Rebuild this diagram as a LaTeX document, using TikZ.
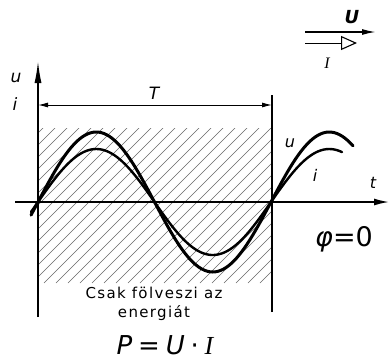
\documentclass[tikz,border=0pt]{standalone}
\usepackage{fontspec}
\setmainfont{DejaVu Sans}
\newfontfamily\serifit{Liberation Serif}
\newfontfamily\spaced[LetterSpace=9]{DejaVu Sans}
\usetikzlibrary{arrows.meta}
\begin{document}
\begin{tikzpicture}[x=1pt,y=-1pt,
  axisline/.style={line width=1.5pt},
  hatchline/.style={line width=0.5pt, black!60},
  ucurve/.style={line width=3pt, line cap=round},
  icurve/.style={line width=2.4pt, line cap=round},
  lbl/.style={inner sep=0pt, font=\fontsize{17}{20}\selectfont\itshape},
  smlbl/.style={inner sep=0pt, font=\fontsize{16}{19}\selectfont\itshape},
]
\useasboundingbox (0,0) rectangle (390,362);
% hatching
\begin{scope}
\clip (38,128) rectangle (272,283);
\foreach \k in {-160,-148,...,280} \draw[hatchline] (\k,283) -- ++(160,-160);
\end{scope}
% coordinates
\coordinate (yb) at (38,317);
\coordinate (yt) at (38,61);
\coordinate (xl) at (15,202);
\coordinate (xr) at (389,202);
\coordinate (rt) at (272,95);
\coordinate (rb) at (272,312);
\coordinate (Tl) at (38,105);
\coordinate (Tr) at (272,105);
\coordinate (Ua) at (305,32);
\coordinate (Ub) at (376,32);
\coordinate (Ia) at (305,43);
\coordinate (Ib) at (357,43);
% axes
\draw[axisline,-{Latex[length=22pt,width=7pt]}] (yb) -- (yt);
\draw[axisline,-{Latex[length=15pt,width=7pt]}] (xl) -- (xr);
\draw[axisline] (rb) -- (rt);
\draw[line width=1pt,{Latex[length=10pt,width=5pt]}-{Latex[length=10pt,width=5pt]}] (Tl) -- (Tr);
% curves
\draw[ucurve] plot[domain=31:353,samples=120,smooth] (\x,{202-70*sin(1.545064*(\x-38))});
\draw[icurve] plot[domain=31:342,samples=120,smooth] (\x,{202-53*sin(1.545064*(\x-38))});
% phasor symbols
\draw[line width=1.6pt,-{Latex[length=14pt,width=6pt]}] (Ua) -- (Ub);
\draw[line width=1pt,-{Triangle[open,length=16pt,width=14pt,line width=1.1pt]}] (Ia) -- (Ib);
% labels
\node[lbl,font=\fontsize{18}{20}\selectfont\bfseries\itshape] (Ulab) at (352,17) {U};
\node[inner sep=0pt,font=\fontsize{16}{18}\selectfont\serifit\itshape] (Ilab) at (327,63) {I};
\node[lbl] (ulab) at (16,78) {u};
\node[lbl] (ilab) at (15,104) {i};
\node[lbl] (Tlab) at (154,93) {T};
\node[smlbl] (u2) at (290,143) {u};
\node[smlbl] (i2) at (315,175) {i};
\node[smlbl] (tlab) at (373,183) {t};
\node[inner sep=0pt,font=\fontsize{27}{30}\selectfont] (phi) at (344,239) {\itshape φ\upshape=0};
\node[inner sep=0pt,align=center,font=\fontsize{15}{19}\selectfont\spaced] (txt) at (154,304) {Csak fölveszi az\\energiát};
\node[inner sep=0pt,font=\fontsize{26}{30}\selectfont\itshape] (P) at (165,345) {P\:=\:U\:{\upshape·}\:{\serifit\itshape I}};
\end{tikzpicture}
\end{document}
